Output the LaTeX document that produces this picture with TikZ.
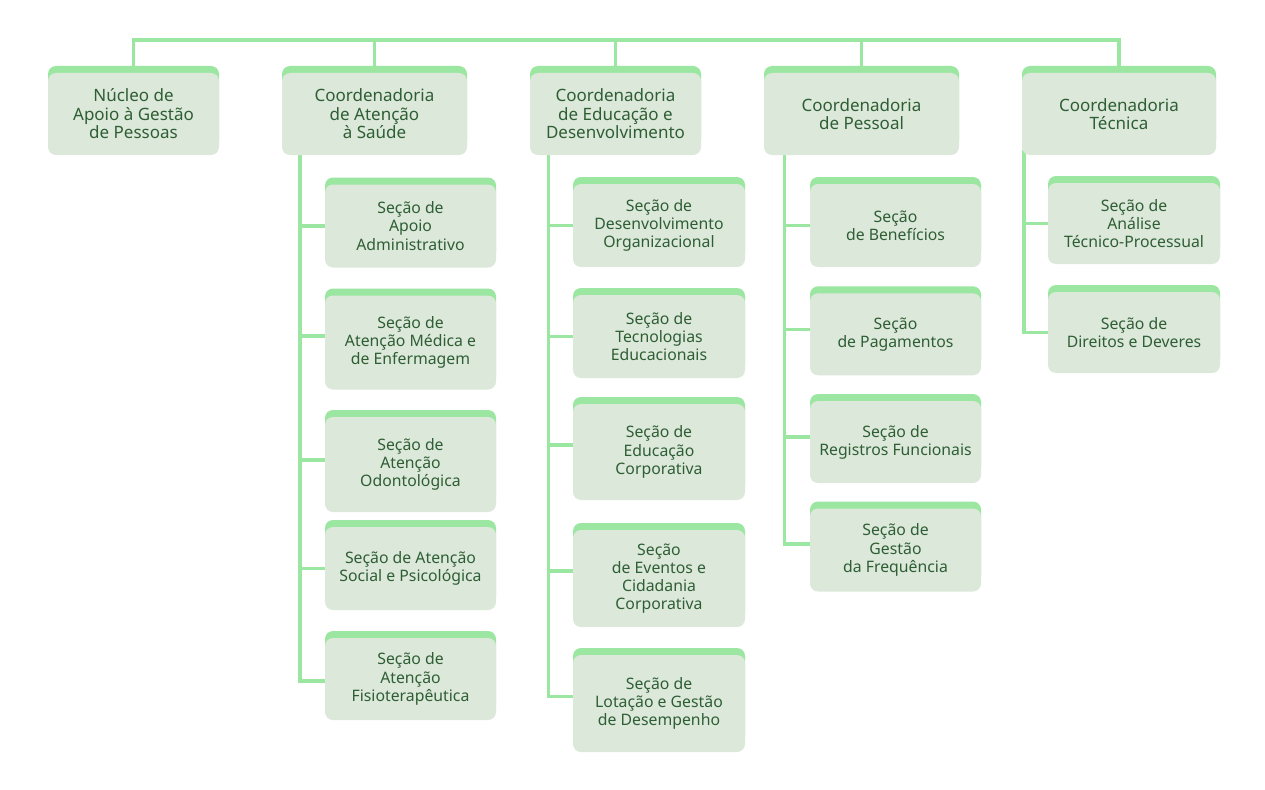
\documentclass[tikz,border=0pt]{standalone}
\usepackage{fontspec}
\setmainfont{Noto Sans}
\usetikzlibrary{backgrounds}
\definecolor{linegreen}{RGB}{155,230,160}
\definecolor{boxfill}{RGB}{220,232,218}
\definecolor{txt}{RGB}{46,94,52}
\tikzset{
  orgbox/.style={fill=boxfill, rounded corners=8pt, text=txt, align=center, inner sep=0pt,
    preaction={fill=linegreen, transform canvas={yshift=7pt}}},
  topbox/.style={orgbox, minimum height=82pt, font=\fontsize{17}{18.5}\selectfont},
  subbox/.style={orgbox, font=\fontsize{15.8}{18.2}\selectfont},
  conn/.style={draw=linegreen, line width=3.5pt}
}
\begin{document}
\begin{tikzpicture}[x=1pt,y=-1pt]
\useasboundingbox (0,0) rectangle (1265,789);
% top level
\node[topbox, minimum width=171pt] (n1) at (133.5,114) {Núcleo de\\Apoio à Gestão\\de Pessoas};
\node[topbox, minimum width=185pt] (c2) at (374.5,114) {Coordenadoria\\de Atenção\\à Saúde};
\node[topbox, minimum width=171pt] (c3) at (615.5,114) {Coordenadoria\\de Educação e\\Desenvolvimento};
\node[topbox, minimum width=195pt] (c4) at (861.5,114) {Coordenadoria\\de Pessoal};
\node[topbox, minimum width=194pt] (c5) at (1119,114) {Coordenadoria\\Técnica};
% column 2
\node[subbox, minimum width=171pt, minimum height=83pt] (s21) at (410.5,226) {Seção de\\Apoio\\Administrativo};
\node[subbox, minimum width=171pt, minimum height=94pt] (s22) at (410.5,342.5) {Seção de\\Atenção Médica e\\de Enfermagem};
\node[subbox, minimum width=171pt, minimum height=95pt] (s23) at (410.5,464.5) {Seção de\\Atenção\\Odontológica};
\node[subbox, minimum width=171pt, minimum height=83pt] (s24) at (410.5,568.5) {Seção de Atenção\\Social e Psicológica};
\node[subbox, minimum width=171pt, minimum height=82pt] (s25) at (410.5,679) {Seção de\\Atenção\\Fisioterapêutica};
% column 3
\node[subbox, minimum width=172pt, minimum height=83pt] (s31) at (659,225.5) {Seção de\\Desenvolvimento\\Organizacional};
\node[subbox, minimum width=172pt, minimum height=83pt] (s32) at (659,336.5) {Seção de\\Tecnologias\\Educacionais};
\node[subbox, minimum width=172pt, minimum height=96pt] (s33) at (659,452) {Seção de\\Educação\\Corporativa};
\node[subbox, minimum width=172pt, minimum height=97pt] (s34) at (659,578.5) {Seção\\de Eventos e\\Cidadania\\Corporativa};
\node[subbox, minimum width=172pt, minimum height=97pt] (s35) at (659,703.5) {Seção de\\Lotação e Gestão\\de Desempenho};
% column 4
\node[subbox, minimum width=171pt, minimum height=83pt] (s41) at (895.5,225.5) {Seção\\de Benefícios};
\node[subbox, minimum width=171pt, minimum height=82pt] (s42) at (895.5,334.3) {Seção\\de Pagamentos};
\node[subbox, minimum width=171pt, minimum height=82pt] (s43) at (895.5,442) {Seção de\\Registros Funcionais};
\node[subbox, minimum width=171pt, minimum height=83pt] (s44) at (895.5,550) {Seção de\\Gestão\\da Frequência};
% column 5
\node[subbox, minimum width=172pt, minimum height=81pt] (s51) at (1134,223.5) {Seção de\\Análise\\Técnico-Processual};
\node[subbox, minimum width=172pt, minimum height=81pt] (s52) at (1134,332.5) {Seção de\\Direitos e Deveres};

\begin{scope}[on background layer]
% bus
\coordinate (busL) at (133.5,40);
\draw[conn] (n1.north) |- (c5.north |- busL) -- (c5.north);
\foreach \c in {c2,c3,c4} \draw[conn] (\c.north) -- (\c.north |- busL);
% trunks
\coordinate (t2) at (300,150);
\coordinate (t3) at (548.5,150);
\coordinate (t4) at (784.5,150);
\coordinate (t5) at (1024,150);
\coordinate (k21) at (s21.west);
\coordinate (k22) at ([yshift=6.5pt]s22.west);
\coordinate (k23) at ([yshift=4.5pt]s23.west);
\coordinate (k24) at (s24.west);
\coordinate (k25) at ([yshift=-2pt]s25.west);
\coordinate (k31) at (s31.west);
\coordinate (k32) at (s32.west);
\coordinate (k33) at ([yshift=7pt]s33.west);
\coordinate (k34) at ([yshift=7.5pt]s34.west);
\coordinate (k35) at ([yshift=7pt]s35.west);
\coordinate (k41) at (s41.west);
\coordinate (k42) at ([yshift=5pt]s42.west);
\coordinate (k43) at ([yshift=5pt]s43.west);
\coordinate (k44) at ([yshift=6pt]s44.west);
\coordinate (k51) at (s51.west);
\coordinate (k52) at (s52.west);
\draw[conn] (t2) |- (k25);
\draw[conn] (t3) |- (k35);
\draw[conn] (t4) |- (k44);
\draw[conn] (t5) |- (k52);
\foreach \k/\t in {k21/t2,k22/t2,k23/t2,k24/t2,k31/t3,k32/t3,k33/t3,k34/t3,k41/t4,k42/t4,k43/t4,k51/t5}
  \draw[conn] (\k) -- (\k -| \t);
\end{scope}
\end{tikzpicture}
\end{document}
